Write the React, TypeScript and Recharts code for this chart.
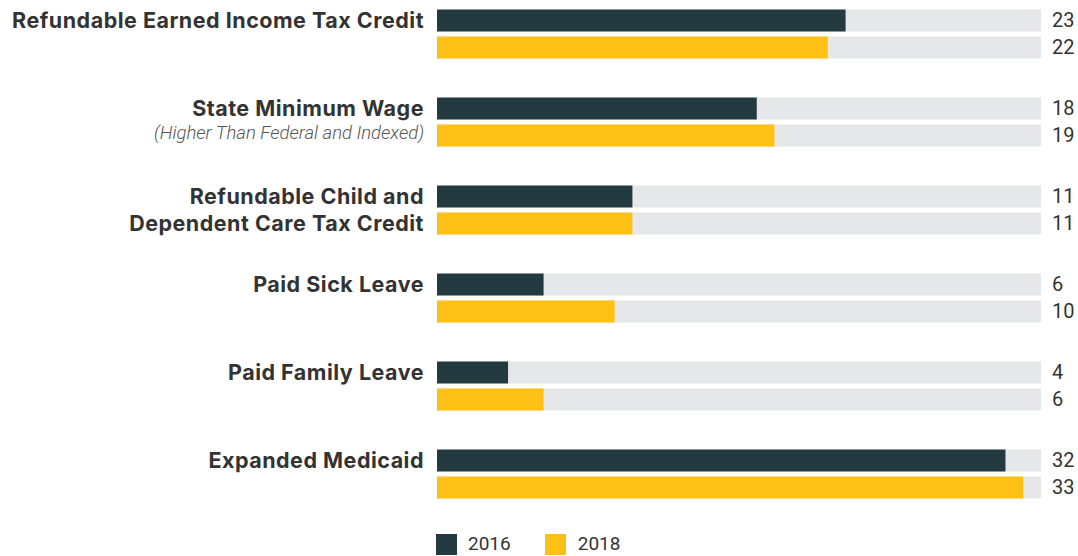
import React from 'react'
import { BarChart, Bar, XAxis, YAxis } from 'recharts'

const categories = [
  'Refundable Earned Income Tax Credit',
  'State Minimum Wage',
  'Refundable Child and Dependent Care Tax Credit',
  'Paid Sick Leave',
  'Paid Family Leave',
  'Expanded Medicaid',
]
// label lines as drawn: [line next to 2016 bar, line next to 2018 bar]
const labelTop = [
  'Refundable Earned Income Tax Credit',
  'State Minimum Wage',
  'Refundable Child and',
  'Paid Sick Leave',
  'Paid Family Leave',
  'Expanded Medicaid',
]
const labelBottom = ['', '', 'Dependent Care Tax Credit', '', '', '']
const subLabels = ['', '(Higher Than Federal and Indexed)', '', '', '', '']
const values2016 = [23, 18, 11, 6, 4, 32]
const values2018 = [22, 19, 11, 10, 6, 33]
const maxStates = 34

const DARK = '#233a40'
const YELLOW = '#fdc116'
const TRACK = '#e6e7e8'
const TEXT = '#333333'
const HALF = 13.5

const data = categories.map((name, i) => ({
  name,
  v2016: values2016[i],
  v2018: values2018[i],
}))

const boldLabel = {
  textAnchor: 'end' as const,
  dominantBaseline: 'central' as const,
  fontFamily: 'Inter, sans-serif',
  fontWeight: 700,
  fontSize: 21.5,
  letterSpacing: 0.5,
  fill: TEXT,
}

function LeftTick(props: any) {
  const { x, y, index } = props
  const i = index
  return (
    <g>
      <text x={x} y={y - HALF} {...boldLabel}>
        {labelTop[i]}
      </text>
      {labelBottom[i] && (
        <text x={x} y={y + HALF} {...boldLabel}>
          {labelBottom[i]}
        </text>
      )}
      {subLabels[i] && (
        <text
          x={x}
          y={y + HALF - 2}
          textAnchor="end"
          dominantBaseline="central"
          fontFamily="Roboto, sans-serif"
          fontStyle="italic"
          fontWeight={300}
          fontSize={18.5}
          fill="#555555"
        >
          {subLabels[i]}
        </text>
      )}
    </g>
  )
}

function RightTick(props: any) {
  const { x, y, index } = props
  return (
    <g fontFamily="Roboto, sans-serif" fontSize={20} fill={TEXT}>
      <text x={x} y={y - HALF} dominantBaseline="central" textAnchor="start">
        {values2016[index]}
      </text>
      <text x={x} y={y + HALF} dominantBaseline="central" textAnchor="start">
        {values2018[index]}
      </text>
    </g>
  )
}

export default function App() {
  return (
    <div style={{ position: 'relative', width: 1078, height: 556 }}>
      <style>{'body{margin:0;overflow:hidden}'}</style>
      <BarChart
        width={1078}
        height={556}
        data={data}
        layout="vertical"
        margin={{ top: -10.5, right: 0, bottom: 38.5, left: 0 }}
        barSize={22}
        barGap={5}
      >
        <XAxis type="number" domain={[0, maxStates]} hide />
        <YAxis
          yAxisId="left"
          type="category"
          dataKey="name"
          width={437}
          axisLine={false}
          tickLine={false}
          tickSize={0}
          tickMargin={13}
          interval={0}
          tick={<LeftTick />}
        />
        <YAxis
          yAxisId="right"
          orientation="right"
          type="category"
          dataKey="name"
          width={37}
          axisLine={false}
          tickLine={false}
          tickSize={0}
          tickMargin={11}
          interval={0}
          tick={<RightTick />}
        />
        <Bar
          yAxisId="left"
          dataKey="v2016"
          fill={DARK}
          background={{ fill: TRACK }}
          isAnimationActive={false}
        />
        <Bar
          yAxisId="left"
          dataKey="v2018"
          fill={YELLOW}
          background={{ fill: TRACK }}
          isAnimationActive={false}
        />
      </BarChart>
      <div
        style={{
          position: 'absolute',
          left: 436,
          top: 533,
          display: 'flex',
          alignItems: 'center',
          fontFamily: 'Roboto, sans-serif',
          fontSize: 19,
          lineHeight: '22px',
          color: TEXT,
        }}
      >
        <span style={{ width: 21, height: 21, background: DARK, display: 'inline-block' }} />
        <span style={{ marginLeft: 11, marginRight: 34 }}>2016</span>
        <span style={{ width: 21, height: 21, background: YELLOW, display: 'inline-block' }} />
        <span style={{ marginLeft: 12 }}>2018</span>
      </div>
    </div>
  )
}
